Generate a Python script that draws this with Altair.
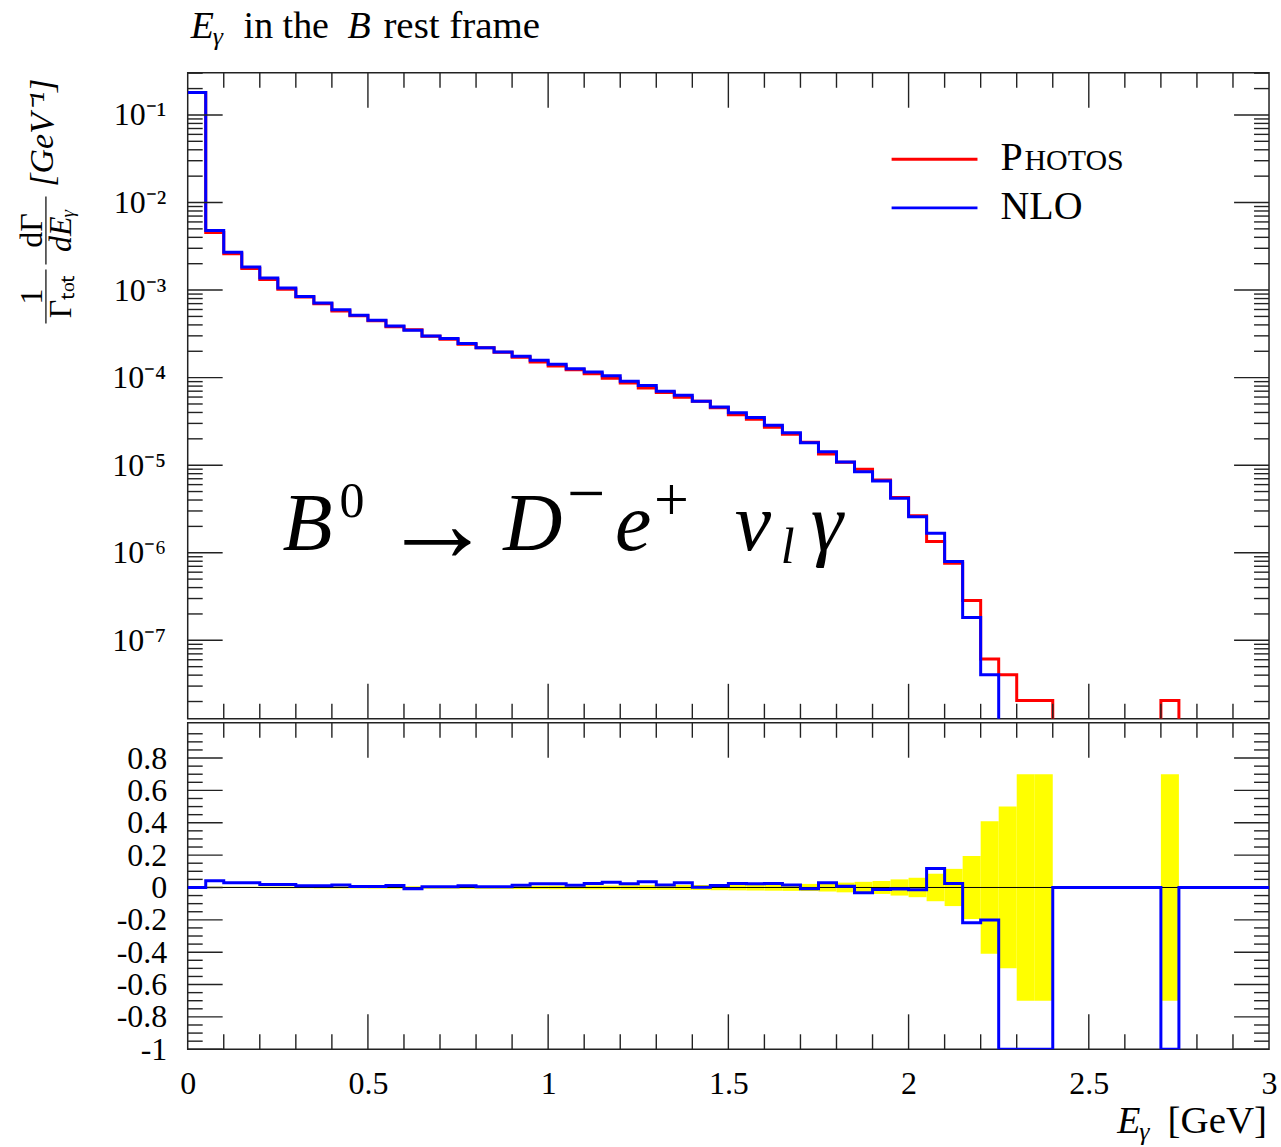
import altair as alt
import pandas as pd

SERIF = "Liberation Serif"
TICK = "#222222"
W, H_TOP, H_BOT = 1083, 647, 327

# ---------------- data ----------------
BIN_EDGES = [round(0.05 * i, 2) for i in range(61)]

PHOTOS = [1.81e-1, 4.55e-3, 2.60e-3, 1.76e-3, 1.32e-3, 1.02e-3, 8.32e-4, 6.97e-4, 5.78e-4, 5.08e-4,
          4.47e-4, 3.80e-4, 3.52e-4, 2.96e-4, 2.75e-4, 2.40e-4, 2.19e-4, 1.95e-4, 1.71e-4, 1.51e-4,
          1.36e-4, 1.23e-4, 1.11e-4, 9.82e-5, 8.69e-5, 7.59e-5, 6.78e-5, 5.96e-5, 5.37e-5, 4.52e-5,
          3.76e-5, 3.35e-5, 2.72e-5, 2.26e-5, 1.83e-5, 1.34e-5, 1.08e-5, 9.00e-6, 6.76e-6, 4.27e-6,
          2.65e-6, 1.34e-6, 7.59e-7, 2.84e-7, 6.11e-8, 4.04e-8, 2.06e-8, 2.06e-8, 0, 0,
          0, 0, 0, 0, 2.06e-8, 0, 0, 0, 0, 0]

NLO = [1.81e-1, 4.80e-3, 2.71e-3, 1.83e-3, 1.37e-3, 1.054e-3, 8.47e-4, 7.11e-4, 5.97e-4, 5.14e-4,
       4.52e-4, 3.89e-4, 3.47e-4, 2.99e-4, 2.79e-4, 2.45e-4, 2.20e-4, 1.96e-4, 1.75e-4, 1.58e-4,
       1.42e-4, 1.26e-4, 1.16e-4, 1.05e-4, 9.10e-5, 8.13e-5, 7.00e-5, 6.31e-5, 5.38e-5, 4.63e-5,
       3.96e-5, 3.51e-5, 2.86e-5, 2.34e-5, 1.80e-5, 1.42e-5, 1.09e-5, 8.41e-6, 6.61e-6, 4.18e-6,
       2.58e-6, 1.67e-6, 7.93e-7, 1.82e-7, 4.04e-8, 0, 0, 0, 0, 0,
       0, 0, 0, 0, 0, 0, 0, 0, 0, 0]

ASYM = [0.0, 0.041, 0.029, 0.029, 0.018, 0.018, 0.010, 0.010, 0.016, 0.006,
        0.006, 0.012, -0.008, 0.004, 0.004, 0.010, 0.004, 0.004, 0.014, 0.023,
        0.023, 0.014, 0.025, 0.033, 0.023, 0.035, 0.016, 0.029, 0.001, 0.012,
        0.025, 0.023, 0.025, 0.016, -0.008, 0.029, 0.008, -0.033, -0.012, -0.010,
        -0.014, 0.117, 0.025, -0.218, -0.201, -1.0, -1.0, -1.0, 0.0, 0.0,
        0.0, 0.0, 0.0, 0.0, -1.0, 0.0, 0.0, 0.0, 0.0, 0.0]

BAND = [0.002, 0.004, 0.004, 0.004, 0.005, 0.005, 0.005, 0.006, 0.006, 0.006,
        0.007, 0.007, 0.007, 0.008, 0.008, 0.008, 0.009, 0.009, 0.010, 0.010,
        0.011, 0.011, 0.012, 0.012, 0.013, 0.014, 0.014, 0.015, 0.016, 0.017,
        0.018, 0.019, 0.020, 0.021, 0.022, 0.025, 0.030, 0.035, 0.040, 0.050,
        0.060, 0.085, 0.115, 0.195, 0.41, 0.50, 0.70, 0.70, 0, 0,
        0, 0, 0, 0, 0.70, 0, 0, 0, 0, 0]

X_LABELS = [0, 0.5, 1, 1.5, 2, 2.5, 3]
X_MAJOR = [0.5, 1.0, 1.5, 2.0, 2.5]
X_MINOR = [round(0.1 * i, 1) for i in range(1, 30) if i % 5 != 0]
Y_TOP_MAJOR = [1e-1, 1e-2, 1e-3, 1e-4, 1e-5, 1e-6, 1e-7]
Y_TOP_MINOR = [m * 10.0 ** k for k in range(-8, 0) for m in range(2, 10) if 1.27e-8 < m * 10.0 ** k < 0.303]
Y_BOT_MAJOR = [-1.0, -0.8, -0.6, -0.4, -0.2, 0.0, 0.2, 0.4, 0.6, 0.8]
Y_BOT_MINOR = [round(-0.95 + 0.05 * i, 2) for i in range(39) if round((-0.95 + 0.05 * i) * 100) % 20 != 0]

FLOOR = 1e-30  # empty bins: drawn far below the axis and clipped

xs = alt.Scale(domain=[0, 3], nice=False, zero=False)
ys_top = alt.Scale(type="log", domain=[1.27e-8, 0.303], nice=False)
ys_bot = alt.Scale(domain=[-1.0, 1.018], nice=False, zero=False)

sup = "['⁰','¹','²','³','⁴','⁵','⁶','⁷','⁸','⁹']"
AX_TOP_Y = alt.Axis(
    values=Y_TOP_MAJOR, title=None, ticks=False, domain=False, grid=False,
    labelExpr="'10⁻' + " + sup + "[round(-log(datum.value)/LN10)]",
    labelPadding=22, labelFontSize=32, labelFont=SERIF, labelColor="black",
    labelOverlap=False)
AX_BOT_Y = alt.Axis(
    values=Y_BOT_MAJOR, title=None, ticks=False, domain=False, grid=False,
    labelExpr="(datum.value < 0 ? '-' : '') + format(abs(datum.value), '~g')",
    labelPadding=21, labelFontSize=32, labelFont=SERIF, labelColor="black",
    labelOverlap=False)
AX_BOT_X = alt.Axis(
    values=X_LABELS, format="~g", title=None, ticks=False, domain=False, grid=False,
    labelFlush=False, labelOverlap=False, labelPadding=19, labelFontSize=32,
    labelFont=SERIF, labelColor="black")

ONE = pd.DataFrame({"a": [0]})


def step_df(vals, floor=None):
    v = list(vals) + [vals[-1]]
    if floor is not None:
        v = [a if a > 0 else floor for a in v]
    return pd.DataFrame({"x": BIN_EDGES, "v": v})


def txt(s, x, y, size, style="normal", angle=0, align="left", baseline="alphabetic"):
    return alt.Chart(ONE).mark_text(
        text=s, fontSize=size, fontStyle=style, font=SERIF, align=align,
        baseline=baseline, angle=angle, color="black"
    ).encode(x=alt.value(x), y=alt.value(y))


def ticks_y(vals, scale, axis, length, side):
    df = pd.DataFrame({"v": vals})
    if side == "left":
        xx, xx2 = alt.value(0), alt.value(length)
    else:
        xx, xx2 = alt.value(W - length), alt.value(W)
    return alt.Chart(df).mark_rule(color=TICK, strokeWidth=1.4).encode(
        y=alt.Y("v:Q", scale=scale, axis=axis), x=xx, x2=xx2)


def ticks_x(vals, axis, length, side, h):
    df = pd.DataFrame({"x": vals})
    if side == "top":
        yy, yy2 = alt.value(0), alt.value(length)
    else:
        yy, yy2 = alt.value(h - length), alt.value(h)
    return alt.Chart(df).mark_rule(color=TICK, strokeWidth=1.4).encode(
        x=alt.X("x:Q", scale=xs, axis=axis), y=yy, y2=yy2)


# ---------------- top panel ----------------
photos_line = alt.Chart(step_df(PHOTOS, FLOOR)).mark_line(
    interpolate="step-after", color="#ff0000", strokeWidth=3, clip=True
).encode(
    x=alt.X("x:Q", scale=xs, axis=None),
    y=alt.Y("v:Q", scale=ys_top, axis=AX_TOP_Y),
)
nlo_line = alt.Chart(step_df(NLO, FLOOR)).mark_line(
    interpolate="step-after", color="#0000ff", strokeWidth=3, clip=True
).encode(
    x=alt.X("x:Q", scale=xs, axis=None),
    y=alt.Y("v:Q", scale=ys_top, axis=AX_TOP_Y),
)

legend_layers = [
    alt.Chart(ONE).mark_rule(color="#ff0000", strokeWidth=3).encode(
        x=alt.value(705), x2=alt.value(791), y=alt.value(86.7)),
    alt.Chart(ONE).mark_rule(color="#0000ff", strokeWidth=3).encode(
        x=alt.value(705), x2=alt.value(791), y=alt.value(135.3)),
    txt("P", 814, 97, 40),
    txt("HOTOS", 838, 97, 30),
    txt("NLO", 814, 146, 40),
]

title_layers = [
    txt("E", 3, -35, 38, "italic"),
    txt("γ", 25, -28, 26, "italic"),
    txt("in the", 56, -35, 38),
    txt("B", 160, -35, 38, "italic"),
    txt("rest frame", 196, -35, 39),
]

formula_layers = [
    txt("B", 95, 478, 82, "italic"),
    txt("0", 152, 445, 50),
    txt("→", 194, 455, 112, baseline="middle"),
    txt("D", 316, 478, 82, "italic"),
    txt("−", 380, 424, 68, baseline="middle"),
    txt("e", 428, 478, 82, "italic"),
    txt("+", 467, 429, 62, baseline="middle"),
    txt("ν", 548, 478, 82, "italic"),
    txt("l", 594, 491, 50, "italic"),
    txt("γ", 624, 478, 82, "italic"),
]

ytitle_layers = [
    txt("1", -156, 224, 32, angle=270, align="center", baseline="middle"),
    alt.Chart(ONE).mark_rule(color="black", strokeWidth=1.2).encode(
        x=alt.value(-142), y=alt.value(197), y2=alt.value(251)),
    txt("Γₜₒₜ", -127, 224, 32, angle=270, align="center", baseline="middle"),
    txt("dΓ", -156, 158, 32, angle=270, align="center", baseline="middle"),
    alt.Chart(ONE).mark_rule(color="black", strokeWidth=1.2).encode(
        x=alt.value(-142), y=alt.value(124), y2=alt.value(192)),
    txt("dEᵧ", -127, 158, 32, "italic", angle=270, align="center", baseline="middle"),
    txt("[GeV⁻¹]", -145, 60, 34, "italic", angle=270, align="center", baseline="middle"),
]

top_layers = [
    photos_line, nlo_line,
    ticks_y(Y_TOP_MAJOR, ys_top, AX_TOP_Y, 35, "left"), ticks_y(Y_TOP_MINOR, ys_top, AX_TOP_Y, 15, "left"),
    ticks_y(Y_TOP_MAJOR, ys_top, AX_TOP_Y, 35, "right"), ticks_y(Y_TOP_MINOR, ys_top, AX_TOP_Y, 15, "right"),
    ticks_x(X_MAJOR, None, 35, "top", H_TOP), ticks_x(X_MINOR, None, 15, "top", H_TOP),
    ticks_x(X_MAJOR, None, 35, "bottom", H_TOP), ticks_x(X_MINOR, None, 15, "bottom", H_TOP),
] + legend_layers + title_layers + formula_layers + ytitle_layers

top = alt.layer(*top_layers).properties(width=W, height=H_TOP)

# ---------------- bottom panel ----------------
band_df = pd.DataFrame({"lo": BIN_EDGES[:-1], "hi": BIN_EDGES[1:], "e": BAND})
band_df = band_df[band_df["e"] > 0].copy()
band_df["x"] = band_df["lo"]
band_df["v"] = -band_df["e"]
band_df["pos"] = band_df["e"]

band = alt.Chart(band_df).mark_rect(color="#ffff00", clip=True).encode(
    x=alt.X("x:Q", scale=xs, axis=AX_BOT_X),
    x2="hi:Q",
    y=alt.Y("v:Q", scale=ys_bot, axis=AX_BOT_Y),
    y2="pos:Q",
)
zero_rule = alt.Chart(pd.DataFrame({"v": [0.0]})).mark_rule(color="black", strokeWidth=1).encode(
    y=alt.Y("v:Q", scale=ys_bot, axis=AX_BOT_Y))
asym_line = alt.Chart(step_df(ASYM)).mark_line(
    interpolate="step-after", color="#0000ff", strokeWidth=3, clip=True
).encode(
    x=alt.X("x:Q", scale=xs, axis=AX_BOT_X),
    y=alt.Y("v:Q", scale=ys_bot, axis=AX_BOT_Y),
)

xtitle_layers = [
    txt("E", 931, 411, 38, "italic"),
    txt("γ", 953, 418, 26, "italic"),
    txt("[GeV]", 1081, 411, 39, align="right"),
]

bot_layers = [
    band, zero_rule,
    ticks_y(Y_BOT_MAJOR, ys_bot, AX_BOT_Y, 35, "left"), ticks_y(Y_BOT_MINOR, ys_bot, AX_BOT_Y, 15, "left"),
    ticks_y(Y_BOT_MAJOR, ys_bot, AX_BOT_Y, 35, "right"), ticks_y(Y_BOT_MINOR, ys_bot, AX_BOT_Y, 15, "right"),
    ticks_x(X_MAJOR, AX_BOT_X, 35, "top", H_BOT), ticks_x(X_MINOR, AX_BOT_X, 15, "top", H_BOT),
    ticks_x(X_MAJOR, AX_BOT_X, 35, "bottom", H_BOT), ticks_x(X_MINOR, AX_BOT_X, 15, "bottom", H_BOT),
    asym_line,
] + xtitle_layers

bot = alt.layer(*bot_layers).properties(width=W, height=H_BOT)

chart = alt.vconcat(top, bot, spacing=0).properties(
    padding={"left": 15, "top": 5, "right": 3, "bottom": 5},
    background="white",
).configure_view(stroke="#222222", strokeWidth=1.5)

chart.save("out.html", embed_options={"renderer": "svg", "actions": False})
